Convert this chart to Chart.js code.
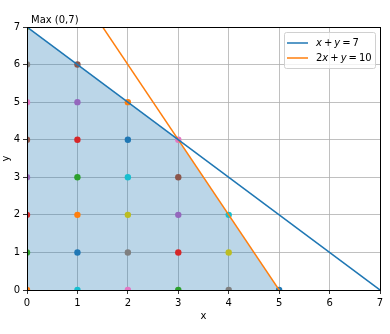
<!DOCTYPE html>
<html>
<head>
<meta charset="utf-8">
<script src="https://cdn.jsdelivr.net/npm/chart.js@4.4.0/dist/chart.umd.min.js"></script>
<style>
  html, body { margin: 0; padding: 0; background: #fff; }
</style>
</head>
<body>
<canvas id="chart" width="390" height="334"></canvas>
<script>
const titleText = 'Max (0,7)'
const xTitle = 'x'
const yTitle = 'y'
// feasible region corners
const regionX = [0, 0, 3, 5]
const regionY = [0, 7, 4, 0]
// the two constraint lines
const lineX = [0, 7]
const line1Y = [7, 0]
const line2Y = [10, -4]
const lineLabels = ['x + y = 7', '2x + y = 10']
// integer points inside the region
const pointX = [0, 0, 0, 0, 0, 0, 0, 0, 1, 1, 1, 1, 1, 1, 1, 2, 2, 2, 2, 2, 2, 3, 3, 3, 3, 3, 4, 4, 4, 5]
const pointY = [0, 1, 2, 3, 4, 5, 6, 7, 0, 1, 2, 3, 4, 5, 6, 0, 1, 2, 3, 4, 5, 0, 1, 2, 3, 4, 0, 1, 2, 0]

const tab10 = ['#1f77b4', '#ff7f0e', '#2ca02c', '#d62728', '#9467bd',
               '#8c564b', '#e377c2', '#7f7f7f', '#bcbd22', '#17becf']
const lineColors = [tab10[0], tab10[1]]

Chart.defaults.font.family = '"DejaVu Sans", sans-serif'
Chart.defaults.font.size = 10
Chart.defaults.color = '#000'

const zip = (xs, ys) => xs.map((x, i) => ({x: x, y: ys[i]}))

const datasets = []
datasets.push({
  label: 'region',
  data: zip(regionX, regionY),
  showLine: true,
  fill: 'origin',
  backgroundColor: 'rgba(31,119,180,0.3)',
  borderWidth: 0,
  pointRadius: 0,
  order: 3,
  clip: 0,
})
datasets.push({
  label: lineLabels[0],
  data: zip(lineX, line1Y),
  showLine: true,
  borderColor: lineColors[0],
  borderWidth: 1.5,
  pointRadius: 0,
  order: 0,
  clip: 0,
})
datasets.push({
  label: lineLabels[1],
  data: zip(lineX, line2Y),
  showLine: true,
  borderColor: lineColors[1],
  borderWidth: 1.5,
  pointRadius: 0,
  order: 0,
  clip: 0,
})
pointX.forEach((x, i) => {
  datasets.push({
    label: 'pt' + i,
    data: [{x: x, y: pointY[i]}],
    backgroundColor: tab10[(i + 1) % 10],
    borderWidth: 0,
    pointRadius: 3.2,
    order: 1,
    clip: 0,
  })
})

function drawMath(ctx, str, x, y){
  // letters italic like mathtext, tighter spaces
  for (const ch of str) {
    if (ch === ' ') { x += 2; continue }
    ctx.font = /[a-z]/.test(ch) ? 'italic 10px "DejaVu Sans"' : '10px "DejaVu Sans"'
    ctx.fillText(ch, x, y)
    x += ctx.measureText(ch).width
  }
}

const framePlugin = {
  id: 'frame',
  afterDraw(chart) {
    const ctx = chart.ctx
    const a = chart.chartArea
    ctx.save()
    ctx.strokeStyle = '#000'
    ctx.lineWidth = 1
    ctx.strokeRect(Math.round(a.left) + 0.5, Math.round(a.top) + 0.5, Math.round(a.right - a.left), Math.round(a.bottom - a.top))

    // title, left aligned over the axes
    ctx.fillStyle = '#000'
    ctx.font = '10px "DejaVu Sans"'
    ctx.textBaseline = 'alphabetic'
    ctx.fillText(titleText, a.left + 4, a.top - 4)

    // legend box, top right like matplotlib
    const bx = a.right - 96, by = a.top + 5, bw = 91, bh = 36
    ctx.fillStyle = 'rgba(255,255,255,0.8)'
    ctx.strokeStyle = '#d0d0d0'
    ctx.beginPath()
    ctx.roundRect(bx + 0.5, by + 0.5, bw, bh, 2)
    ctx.fill()
    ctx.stroke()
    lineLabels.forEach((lab, i) => {
      const ly = by + 11 + i * 15
      ctx.strokeStyle = lineColors[i]
      ctx.lineWidth = 1.5
      ctx.beginPath()
      ctx.moveTo(bx + 3, ly)
      ctx.lineTo(bx + 24, ly)
      ctx.stroke()
      ctx.fillStyle = '#000'
      ctx.textBaseline = 'middle'
      drawMath(ctx, lab, bx + 32, ly + 0.5)
    })
    ctx.restore()
  }
}

const axisStyle = {
  type: 'linear',
  min: 0,
  max: 7,
  ticks: { stepSize: 1, padding: 3, color: '#000' },
  grid: { color: '#b0b0b0', lineWidth: 0.8, tickColor: '#000', tickLength: 4 },
  border: { color: '#000', width: 1 },
}

new Chart(document.getElementById('chart'), {
  type: 'scatter',
  data: { datasets: datasets },
  plugins: [framePlugin],
  options: {
    responsive: false,
    animation: false,
    events: [],
    layout: { padding: { left: 0, right: 10, top: 27, bottom: 0 } },
    plugins: {
      legend: { display: false },
      tooltip: { enabled: false },
      title: { display: false },
    },
    scales: {
      x: {
        ...axisStyle,
        title: { display: true, text: xTitle, padding: { top: 0, bottom: 12 } },
        afterFit: (scale) => { scale.height = 44 },
      },
      y: {
        ...axisStyle,
        title: { display: true, text: yTitle, padding: { top: 0, bottom: 0 } },
        afterFit: (scale) => { scale.width = 27 },
      },
    },
  },
})
</script>
</body>
</html>
